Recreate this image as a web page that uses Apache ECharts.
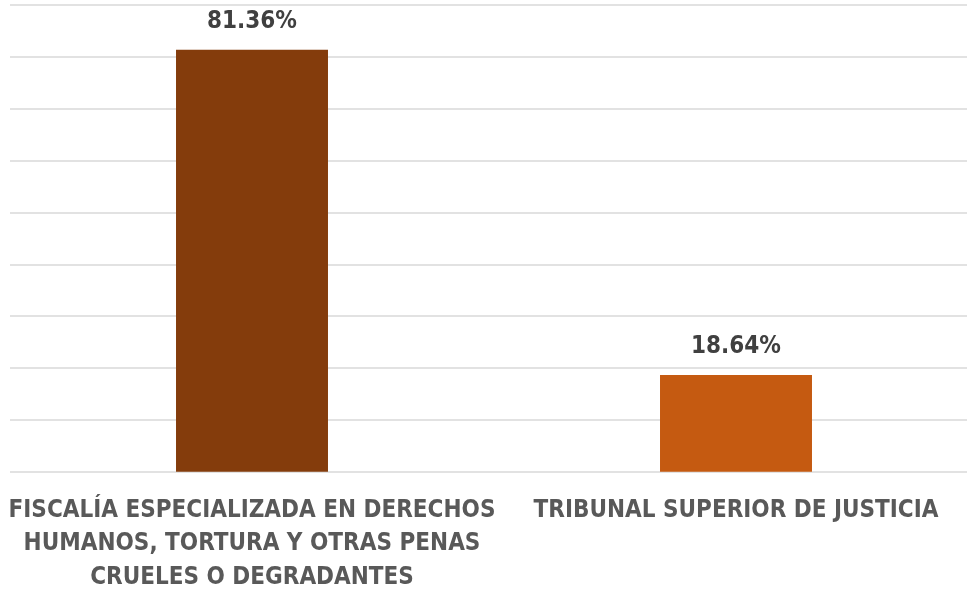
<!DOCTYPE html>
<html>
<head>
<meta charset="utf-8">
<script src="https://cdn.jsdelivr.net/npm/echarts@6/dist/echarts.min.js"></script>
<style>
html,body{margin:0;padding:0;background:#fff;}
#c{width:967px;height:596px;}
</style>
</head>
<body>
<div id="c"></div>
<script>
const categories = [
  "FISCALÍA ESPECIALIZADA EN DERECHOS\nHUMANOS, TORTURA Y OTRAS PENAS\nCRUELES O DEGRADANTES",
  "TRIBUNAL SUPERIOR DE JUSTICIA"
];
const values = [81.36, 18.64];
const barColors = ["#843C0C", "#C55A11"];
const yMin = 0, yMax = 90, yStep = 10;

const FONT = '"DejaVu Sans Condensed", "Liberation Sans", sans-serif';
const chart = echarts.init(document.getElementById('c'), null, {renderer: 'canvas'});
chart.setOption({
  animation: false,
  backgroundColor: '#ffffff',
  grid: {left: 10, top: 5, width: 968, height: 466.7, containLabel: false, outerBoundsMode: 'none'},
  xAxis: {
    type: 'category',
    data: categories,
    axisLine: {show: false},
    axisTick: {show: false},
    axisLabel: {
      interval: 0,
      margin: 22,
      color: '#595959',
      fontFamily: FONT,
      fontWeight: 'bold',
      fontSize: 24,
      lineHeight: 33.5
    }
  },
  yAxis: {
    type: 'value',
    min: yMin, max: yMax, interval: yStep,
    axisLabel: {show: false},
    axisLine: {show: false},
    axisTick: {show: false},
    splitLine: {lineStyle: {color: '#d9d9d9', width: 1.5}}
  },
  series: [{
    type: 'bar',
    barWidth: '31.4%',
    data: values.map((v, i) => ({value: v, itemStyle: {color: barColors[i]}})),
    label: {
      show: true,
      position: 'top',
      distance: 16,
      formatter: p => p.value.toFixed(2) + '%',
      color: '#404040',
      fontFamily: FONT,
      fontWeight: 'bold',
      fontSize: 24
    }
  }]
});
</script>
</body>
</html>
